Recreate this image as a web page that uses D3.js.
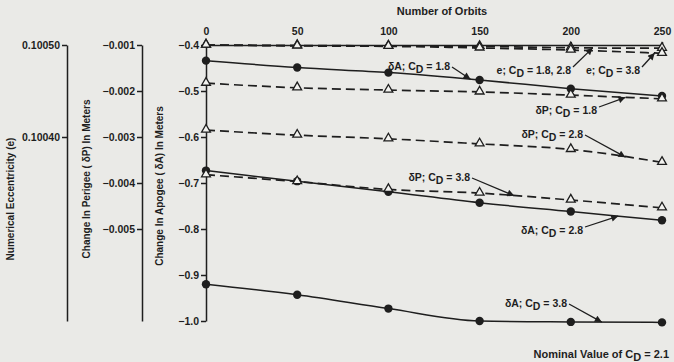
<!DOCTYPE html>
<html>
<head>
<meta charset="utf-8">
<script src="https://cdn.jsdelivr.net/npm/d3@7"></script>
<style>
  body { margin: 0; background: #eaeae7; }
  svg { display: block; font-family: "Liberation Sans", Arial, sans-serif; font-weight: bold; }
</style>
</head>
<body>
<div id="chart"></div>
<script>
// orbit counts on the top axis
const orbits = [0, 50, 100, 150, 200, 250];

// change in apogee (meters)
const apogee18 = [-0.434, -0.449, -0.460, -0.476, -0.495, -0.511];
const apogee28 = [-0.673, -0.696, -0.719, -0.743, -0.762, -0.781];
const apogee38 = [-0.920, -0.943, -0.973, -1.000, -1.002, -1.003];

// change in perigee (meters)
const perigee18 = [-0.00183, -0.00193, -0.00198, -0.00202, -0.00209, -0.00217];
const perigee28 = [-0.00285, -0.00296, -0.00304, -0.00315, -0.00327, -0.00355];
const perigee38 = [-0.00382, -0.00397, -0.00414, -0.00422, -0.00437, -0.00454];

// numerical eccentricity
const ecc1828 = [0.100500, 0.1004995, 0.100499, 0.1004985, 0.100497, 0.1004965];
const ecc38 = [0.100500, 0.100499, 0.1004985, 0.1004968, 0.1004945, 0.100491];

const apogeeTicks = [-0.4, -0.5, -0.6, -0.7, -0.8, -0.9, -1.0];
const perigeeTicks = [-0.001, -0.002, -0.003, -0.004, -0.005];
const eccTicks = [0.10050, 0.10040];

const width = 674, height = 362;
const ink = "#1e1e1e";

const svg = d3.select("#chart").append("svg")
  .attr("width", width)
  .attr("height", height);

const defs = svg.append("defs");
defs.append("marker")
  .attr("id", "head")
  .attr("viewBox", "0 0 10 10")
  .attr("refX", 10).attr("refY", 5)
  .attr("markerWidth", 10).attr("markerHeight", 7)
  .attr("markerUnits", "userSpaceOnUse")
  .attr("orient", "auto")
  .append("path")
  .attr("d", "M0,0L10,5L0,10z")
  .attr("fill", ink);

const x = d3.scaleLinear().domain([0, 250]).range([206, 662]);
const yA = d3.scaleLinear().domain([-0.4, -1.0]).range([45, 321]);
const yP = d3.scaleLinear().domain([-0.001, -0.007]).range([45, 321]);
const yE = d3.scaleLinear().domain([0.10050, 0.10020]).range([45, 321]);

function styleAxis(g, size) {
  g.attr("font-family", null).attr("font-size", size);
  g.selectAll("path, line").attr("stroke", ink).attr("stroke-width", 1.5);
  g.selectAll("text").attr("fill", ink);
}

// eccentricity axis
svg.append("g")
  .attr("transform", "translate(67,0)")
  .call(d3.axisLeft(yE).tickValues(eccTicks).tickFormat(d3.format(".5f")).tickSize(5).tickPadding(2).tickSizeOuter(0))
  .call(g => styleAxis(g, 10.5));

// perigee axis
svg.append("g")
  .attr("transform", "translate(142,0)")
  .call(d3.axisLeft(yP).tickValues(perigeeTicks).tickFormat(d3.format(".3f")).tickSize(5).tickPadding(2).tickSizeOuter(0))
  .call(g => styleAxis(g, 10.5));

// apogee axis
svg.append("g")
  .attr("transform", "translate(206,0)")
  .call(d3.axisLeft(yA).tickValues(apogeeTicks).tickFormat(d3.format(".1f")).tickSize(5).tickPadding(2).tickSizeOuter(0))
  .call(g => styleAxis(g, 10.5));

// orbits axis on top
svg.append("g")
  .attr("transform", "translate(0,45)")
  .call(d3.axisTop(x).tickValues(orbits).tickSize(3).tickPadding(7).tickSizeOuter(0))
  .call(g => styleAxis(g, 10.5));

svg.append("text")
  .attr("x", 442).attr("y", 15)
  .attr("text-anchor", "middle")
  .attr("font-size", 11)
  .attr("fill", ink)
  .text("Number of Orbits");

// rotated axis titles
const titles = [
  { text: "Numerical Eccentricity (e)", x: 14, y: 199 },
  { text: "Change In Perigee ( \u03b4P) In Meters", x: 90, y: 179 },
  { text: "Change In Apogee ( \u03b4A) In Meters", x: 163, y: 186 }
];
svg.selectAll(".title")
  .data(titles)
  .enter()
  .append("text")
  .attr("transform", d => "translate(" + d.x + "," + d.y + ")rotate(-90)")
  .attr("text-anchor", "middle")
  .attr("font-size", 10)
  .attr("fill", ink)
  .text(d => d.text);

const series = [
  { key: "e18", values: ecc1828, y: yE, dashed: true, mark: "tri" },
  { key: "e38", values: ecc38, y: yE, dashed: true, mark: "tri" },
  { key: "p18", values: perigee18, y: yP, dashed: true, mark: "tri" },
  { key: "p28", values: perigee28, y: yP, dashed: true, mark: "tri" },
  { key: "p38", values: perigee38, y: yP, dashed: true, mark: "tri" },
  { key: "a18", values: apogee18, y: yA, dashed: false, mark: "dot" },
  { key: "a28", values: apogee28, y: yA, dashed: false, mark: "dot" },
  { key: "a38", values: apogee38, y: yA, dashed: false, mark: "dot" }
];

const line = s => d3.line()
  .x((d, i) => x(orbits[i]))
  .y(d => s.y(d))
  .curve(d3.curveMonotoneX)(s.values);

svg.selectAll(".series")
  .data(series)
  .enter()
  .append("path")
  .attr("d", d => line(d))
  .attr("fill", "none")
  .attr("stroke", ink)
  .attr("stroke-width", d => d.dashed ? 1.7 : 1.5)
  .attr("stroke-dasharray", d => d.dashed ? "9,5" : null);

// filled circles first, then open triangles on top
series.filter(s => s.mark === "dot").forEach(s => {
  svg.selectAll(null)
    .data(s.values)
    .enter()
    .append("circle")
    .attr("cx", (d, i) => x(orbits[i]))
    .attr("cy", d => s.y(d))
    .attr("r", 4.2)
    .attr("fill", ink);
});

const tri = d3.symbol().type(d3.symbolTriangle).size(34);
series.filter(s => s.mark === "tri").forEach(s => {
  svg.selectAll(null)
    .data(s.values)
    .enter()
    .append("path")
    .attr("transform", (d, i) => "translate(" + x(orbits[i]) + "," + (s.y(d) - 0.5) + ")")
    .attr("d", tri)
    .attr("fill", "#f2f2ef")
    .attr("stroke", ink)
    .attr("stroke-width", 1.3);
});

// callouts: label end point and the orbit the arrow points at
const callouts = [
  { name: "\u03b4A", cd: "1.8", endX: 450, cy: 66, key: "a18", at: 145 },
  { name: "e", cd: "1.8, 2.8", endX: 571, cy: 70, key: "e18", at: 212 },
  { name: "e", cd: "3.8", endX: 640, cy: 70, key: "e38", at: 246 },
  { name: "\u03b4P", cd: "1.8", endX: 597, cy: 110, key: "p18", at: 230 },
  { name: "\u03b4P", cd: "2.8", endX: 583, cy: 134, key: "p28", at: 230 },
  { name: "\u03b4P", cd: "3.8", endX: 470, cy: 177, key: "p38", at: 169 },
  { name: "\u03b4A", cd: "2.8", endX: 583, cy: 230, key: "a28", at: 226 },
  { name: "\u03b4A", cd: "3.8", endX: 567, cy: 303, key: "a38", at: 217 }
];

function pointOn(key, at) {
  const s = series.find(d => d.key === key);
  const i = Math.min(Math.floor(at / 50), orbits.length - 2);
  const t = (at - orbits[i]) / (orbits[i + 1] - orbits[i]);
  const v = s.values[i] + (s.values[i + 1] - s.values[i]) * t;
  return [x(at), s.y(v)];
}

callouts.forEach(c => {
  const t = svg.append("text")
    .attr("x", c.endX).attr("y", c.cy + 4)
    .attr("text-anchor", "end")
    .attr("font-size", 10.5)
    .attr("fill", ink);
  t.append("tspan").text(c.name + "; C");
  t.append("tspan").attr("dy", 3).text("D");
  t.append("tspan").attr("dy", -3).text(" = " + c.cd);

  const p = pointOn(c.key, c.at);
  const sy = p[1] < c.cy ? c.cy - 3 : c.cy + 1;
  svg.append("line")
    .attr("x1", c.endX + 2).attr("y1", sy)
    .attr("x2", p[0]).attr("y2", p[1])
    .attr("stroke", ink)
    .attr("stroke-width", 1.3)
    .attr("marker-end", "url(#head)");
});

// footnote
const note = svg.append("text")
  .attr("x", 669).attr("y", 358)
  .attr("text-anchor", "end")
  .attr("font-size", 11)
  .attr("fill", ink);
note.append("tspan").text("Nominal Value of C");
note.append("tspan").attr("dy", 3).text("D");
note.append("tspan").attr("dy", -3).text(" = 2.1");
</script>
</body>
</html>
